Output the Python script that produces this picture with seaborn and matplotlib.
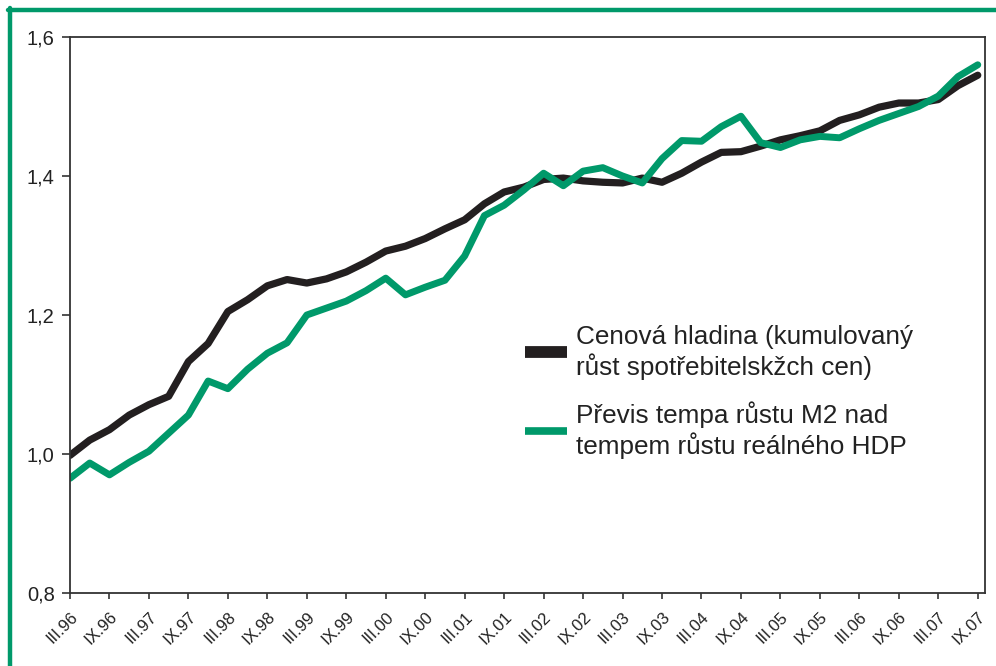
import numpy as np
import pandas as pd
import matplotlib
matplotlib.use("Agg")
import matplotlib.pyplot as plt
from matplotlib.lines import Line2D
import seaborn as sns

# quarterly observations, month index from III.96 (0) to IX.07 (138)
months = list(range(0, 139, 3))

price_level = [0.998, 1.020, 1.035, 1.056, 1.071, 1.083, 1.133, 1.159, 1.205, 1.222,
               1.242, 1.251, 1.246, 1.252, 1.262, 1.276, 1.292, 1.299, 1.310, 1.324,
               1.337, 1.360, 1.377, 1.384, 1.395, 1.397, 1.393, 1.391, 1.390, 1.397,
               1.391, 1.404, 1.420, 1.434, 1.435, 1.443, 1.452, 1.458, 1.465, 1.480,
               1.488, 1.499, 1.505, 1.505, 1.510, 1.530, 1.545]

m2_excess = [0.965, 0.987, 0.970, 0.988, 1.004, 1.030, 1.056, 1.105, 1.094, 1.122,
             1.145, 1.160, 1.200, 1.210, 1.220, 1.235, 1.253, 1.229, 1.240, 1.250,
             1.285, 1.343, 1.358, 1.380, 1.404, 1.386, 1.407, 1.412, 1.400, 1.390,
             1.425, 1.451, 1.450, 1.471, 1.486, 1.448, 1.441, 1.452, 1.457, 1.455,
             1.468, 1.480, 1.490, 1.500, 1.515, 1.543, 1.560]

tick_labels = ["III.96", "IX.96", "III.97", "IX.97", "III.98", "IX.98", "III.99", "IX.99",
               "III.00", "IX.00", "III.01", "IX.01", "III.02", "IX.02", "III.03", "IX.03",
               "III.04", "IX.04", "III.05", "IX.05", "III.06", "IX.06", "III.07", "IX.07"]
y_ticks = [0.8, 1.0, 1.2, 1.4, 1.6]
y_tick_labels = ["0,8", "1,0", "1,2", "1,4", "1,6"]

label_price = "Cenová hladina (kumulovaný\nrůst spotřebitelskžch cen)"
label_m2 = "Převis tempa růstu M2 nad\ntempem růstu reálného HDP"

BLACK = "#231f20"
GREEN = "#00996a"

sns.set_style("white")
plt.rcParams["font.family"] = ["Liberation Sans", "DejaVu Sans"]

df = pd.DataFrame({"month": months, "price": price_level, "m2": m2_excess})

fig = plt.figure(figsize=(9.96, 6.66), dpi=100)
ax = fig.add_axes([70 / 996, 73 / 666, 915 / 996, 556 / 666])

sns.lineplot(data=df, x="month", y="price", ax=ax, color=BLACK, linewidth=5.2,
             solid_joinstyle="round", solid_capstyle="round")
sns.lineplot(data=df, x="month", y="m2", ax=ax, color=GREEN, linewidth=5,
             solid_joinstyle="round", solid_capstyle="round")

ax.set_xlim(0, 139.1)
ax.set_ylim(0.8, 1.6)
ax.set_xlabel("")
ax.set_ylabel("")

ax.set_xticks(list(range(0, 139, 6)))
ax.set_xticklabels(tick_labels, rotation=45, ha="right", rotation_mode="anchor",
                   fontsize=12, color="#222222")
ax.set_yticks(y_ticks)
ax.set_yticklabels(y_tick_labels, fontsize=14.5, color="#222222")
ax.tick_params(axis="both", which="both", direction="out", width=1.2,
               color="#333333", bottom=True, left=True)
ax.tick_params(axis="x", length=4.5, pad=7)
ax.tick_params(axis="y", length=6, pad=5)
for sp in ax.spines.values():
    sp.set_visible(True)
    sp.set_color("#333333")
    sp.set_linewidth(1.3)

handles = [Line2D([0], [0], color=BLACK, linewidth=8.5, solid_capstyle="butt"),
           Line2D([0], [0], color=GREEN, linewidth=5.5, solid_capstyle="butt")]
leg = ax.legend(handles, [label_price, label_m2], loc="center left",
                bbox_to_anchor=(525 / 996, 1 - 392 / 666), bbox_transform=fig.transFigure,
                frameon=False, fontsize=18.8, handlelength=1.6, handletextpad=0.35,
                labelspacing=0.85, borderpad=0, borderaxespad=0)
for t in leg.get_texts():
    t.set_color("#222222")
    t.set_linespacing(1.2)

# green frame (top and left edges)
fig.add_artist(Line2D([9.5 / 996, 9.5 / 996], [0, 1 - 8 / 666], color=GREEN, linewidth=3.2,
                      transform=fig.transFigure))
fig.add_artist(Line2D([8 / 996, 1], [1 - 9.5 / 666, 1 - 9.5 / 666], color=GREEN, linewidth=3.2,
                      transform=fig.transFigure))

fig.savefig("out.png", dpi=100, facecolor="white")
